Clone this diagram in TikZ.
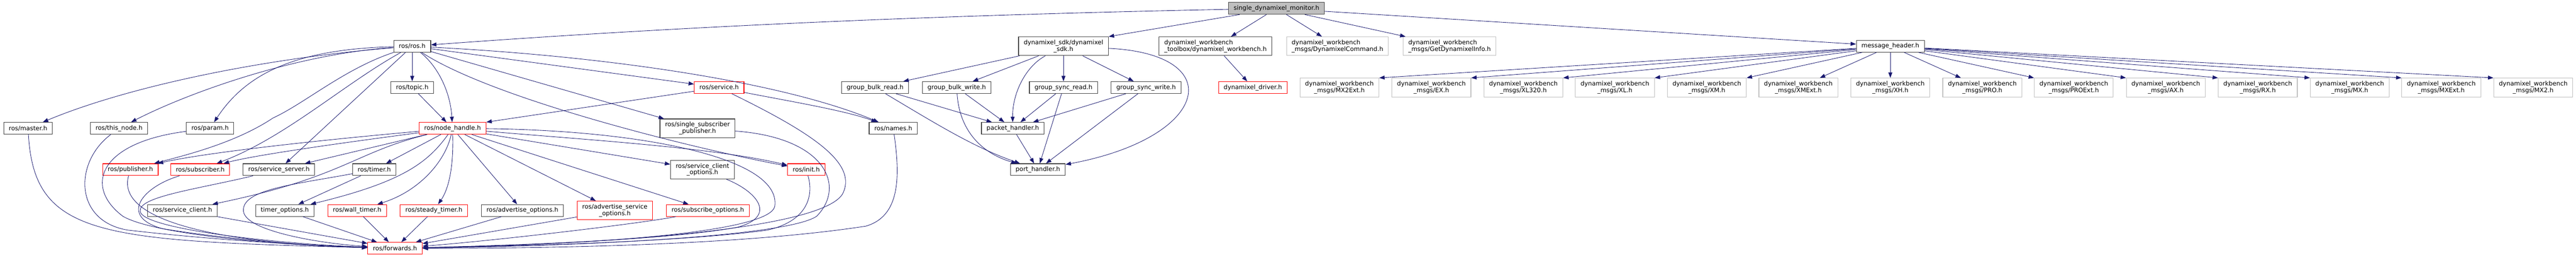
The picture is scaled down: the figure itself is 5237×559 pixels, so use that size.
\documentclass[tikz,border=0pt]{standalone}
\usepackage{fontspec}
\setmainfont{DejaVu Sans}
\usetikzlibrary{arrows.meta}
\definecolor{edgeblue}{HTML}{191970}
\definecolor{extgray}{HTML}{BFBFBF}

\begin{document}
\begin{tikzpicture}[x=1pt,y=-1pt,font=\fontsize{12.5}{13.3}\selectfont,
    file/.style={draw=black!75,line width=1.2pt,fill=white,inner xsep=10.5pt,inner ysep=2pt,minimum height=24pt},
    trunc/.style={file,draw=red},
    ext/.style={file,draw=extgray},
    root/.style={file,fill=extgray},
    tall/.style={minimum height=38pt,align=center},
    edge/.style={draw=edgeblue,line width=0.9pt,-{Triangle[length=11pt,width=8pt]}}]
    \useasboundingbox (0,0) rectangle (5237,559);

    \node[root] (monitor) at (2595,17) {single\_dynamixel\_monitor.h};

    \node[file] (ros) at (838,94) {ros/ros.h};
    \node[file,tall] (sdk) at (2162,94) {dynamixel\_sdk/dynamixel\\\_sdk.h};
    \node[file,tall,align=left] (toolbox) at (2471,94) {dynamixel\_workbench\\\_toolbox/dynamixel\_workbench.h};
    \node[ext,tall,align=left] (command) at (2719,94) {dynamixel\_workbench\\\_msgs/DynamixelCommand.h};
    \node[ext,tall,align=left] (info) at (2947,94) {dynamixel\_workbench\\\_msgs/GetDynamixelInfo.h};
    \node[file] (header) at (3843,94) {message\_header.h};

    \node[file] (topic) at (838,178) {ros/topic.h};
    \node[trunc] (service) at (1462,178) {ros/service.h};
    \node[file] (bulkread) at (1779,178) {group\_bulk\_read.h};
    \node[file] (bulkwrite) at (1945,178) {group\_bulk\_write.h};
    \node[file] (syncread) at (2162,178) {group\_sync\_read.h};
    \node[file] (syncwrite) at (2330,178) {group\_sync\_write.h};
    \node[trunc] (driver) at (2547,178) {dynamixel\_driver.h};
    \node[ext,tall] (msgMXtwoExt) at (2723,178) {dynamixel\_workbench\\\_msgs/MX2Ext.h};
    \node[ext,tall] (msgEX) at (2910,178) {dynamixel\_workbench\\\_msgs/EX.h};
    \node[ext,tall] (msgXLthree) at (3097,178) {dynamixel\_workbench\\\_msgs/XL320.h};
    \node[ext,tall] (msgXL) at (3283,178) {dynamixel\_workbench\\\_msgs/XL.h};
    \node[ext,tall] (msgXM) at (3470,178) {dynamixel\_workbench\\\_msgs/XM.h};
    \node[ext,tall] (msgXMExt) at (3656,178) {dynamixel\_workbench\\\_msgs/XMExt.h};
    \node[ext,tall] (msgXH) at (3843,178) {dynamixel\_workbench\\\_msgs/XH.h};
    \node[ext,tall] (msgPRO) at (4030,178) {dynamixel\_workbench\\\_msgs/PRO.h};
    \node[ext,tall] (msgPROExt) at (4216,178) {dynamixel\_workbench\\\_msgs/PROExt.h};
    \node[ext,tall] (msgAX) at (4403,178) {dynamixel\_workbench\\\_msgs/AX.h};
    \node[ext,tall] (msgRX) at (4590,178) {dynamixel\_workbench\\\_msgs/RX.h};
    \node[ext,tall] (msgMX) at (4777,178) {dynamixel\_workbench\\\_msgs/MX.h};
    \node[ext,tall] (msgMXExt) at (4963,178) {dynamixel\_workbench\\\_msgs/MXExt.h};
    \node[ext,tall] (msgMXtwo) at (5150,178) {dynamixel\_workbench\\\_msgs/MX2.h};

    \node[file] (master) at (57,261) {ros/master.h};
    \node[file] (thisnode) at (242,261) {ros/this\_node.h};
    \node[file] (param) at (427,261) {ros/param.h};
    \node[trunc] (nodehandle) at (920,261) {ros/node\_handle.h};
    \node[file,tall] (ssp) at (1418,261) {ros/single\_subscriber\\\_publisher.h};
    \node[file] (names) at (1816,261) {ros/names.h};
    \node[file] (packet) at (2059,261) {packet\_handler.h};

    \node[trunc] (publisher) at (265,345) {ros/publisher.h};
    \node[trunc] (subscriber) at (407,345) {ros/subscriber.h};
    \node[file] (svcserver) at (567,345) {ros/service\_server.h};
    \node[file] (timer) at (761,345) {ros/timer.h};
    \node[file,tall] (svcclientopts) at (1428,345) {ros/service\_client\\\_options.h};
    \node[trunc] (init) at (1639,345) {ros/init.h};
    \node[file] (port) at (2110,345) {port\_handler.h};

    \node[file] (svcclient) at (371,428) {ros/service\_client.h};
    \node[file] (timeropts) at (579,428) {timer\_options.h};
    \node[trunc] (walltimer) at (726,428) {ros/wall\_timer.h};
    \node[trunc] (steadytimer) at (882,428) {ros/steady\_timer.h};
    \node[file] (advopts) at (1062,428) {ros/advertise\_options.h};
    \node[trunc,tall] (advsvcopts) at (1250,428) {ros/advertise\_service\\\_options.h};
    \node[trunc] (subopts) at (1439,428) {ros/subscribe\_options.h};

    \node[trunc] (forwards) at (803,505) {ros/forwards.h};

    \draw[edge] (monitor) .. controls (1800,33) and (1300,60) .. (ros);
    \draw[edge] (monitor) -- (sdk.north east);
    \draw[edge] (monitor) -- (toolbox);
    \draw[edge] (monitor) -- (command);
    \draw[edge] (monitor) -- (info);
    \draw[edge] (monitor) -- (header);

    \draw[edge] (ros) .. controls (520,120) and (250,180) .. (master);
    \draw[edge] (ros) .. controls (600,110) and (380,190) .. (thisnode);
    \draw[edge] (ros) .. controls (600,100) and (500,150) .. (param);
    \draw[edge] (ros) .. controls (700,140) and (620,210) .. (555,240) .. controls (480,290) and (380,315) .. (publisher);
    \draw[edge] (ros) .. controls (700,170) and (580,280) .. (subscriber);
    \draw[edge] (ros) -- (svcserver);
    \draw[edge] (ros) -- (topic);
    \draw[edge] (ros) .. controls (885,130) and (915,180) .. (nodehandle);
    \draw[edge] (ros) -- (service);
    \draw[edge] (ros) .. controls (1250,115) and (1600,170) .. (names);
    \draw[edge] (ros) -- (ssp);
    \draw[edge] (ros) .. controls (1000,200) and (1400,300) .. (init);
    \draw[edge] (topic) -- (nodehandle);
    \draw[edge] (service) -- (nodehandle.north east);
    \draw[edge] (service) .. controls (1600,205) and (1720,225) .. (names);

    \draw[edge] (nodehandle) .. controls (650,285) and (420,310) .. (publisher);
    \draw[edge] (nodehandle) .. controls (700,290) and (520,315) .. (subscriber);
    \draw[edge] (nodehandle) -- (svcserver);
    \draw[edge] (nodehandle) .. controls (720,310) and (700,360) .. (svcclient);
    \draw[edge] (nodehandle) -- (timer);
    \draw[edge] (nodehandle) .. controls (870,330) and (820,370) .. (timeropts);
    \draw[edge] (nodehandle) .. controls (905,330) and (850,390) .. (walltimer);
    \draw[edge] (nodehandle) .. controls (922,330) and (915,380) .. (steadytimer);
    \draw[edge] (nodehandle) -- (advopts);
    \draw[edge] (nodehandle) -- (advsvcopts);
    \draw[edge] (nodehandle) -- (subopts);
    \draw[edge] (nodehandle) -- (svcclientopts);
    \draw[edge] (nodehandle) .. controls (1200,285) and (1450,300) .. (init);
    \draw[edge] (timer) -- (timeropts);

    \draw[edge] (master) .. controls (70,480) and (200,490) .. (forwards);
    \draw[edge] (thisnode) .. controls (150,330) and (150,450) .. (260,468) .. controls (450,490) and (650,500) .. (forwards);
    \draw[edge] (param) .. controls (200,290) and (170,380) .. (250,440) .. controls (320,480) and (600,500) .. (forwards);
    \draw[edge] (publisher) .. controls (235,450) and (450,495) .. (forwards);
    \draw[edge] (subscriber) .. controls (290,380) and (240,440) .. (330,465) .. controls (450,485) and (620,500) .. (forwards);
    \draw[edge] (svcserver) .. controls (400,385) and (280,400) .. (285,430) .. controls (290,465) and (550,495) .. (forwards);
    \draw[edge] (svcclient) -- (forwards);
    \draw[edge] (timer) .. controls (600,375) and (490,385) .. (495,430) .. controls (500,470) and (650,495) .. (forwards);
    \draw[edge] (timeropts) -- (forwards);
    \draw[edge] (walltimer) -- (forwards);
    \draw[edge] (steadytimer) -- (forwards);
    \draw[edge] (advopts) -- (forwards);
    \draw[edge] (advsvcopts) -- (forwards);
    \draw[edge] (subopts) .. controls (1300,455) and (1000,490) .. (forwards);
    \draw[edge] (svcclientopts) .. controls (1540,390) and (1580,440) .. (1500,462) .. controls (1350,490) and (1000,500) .. (forwards);
    \draw[edge] (nodehandle) .. controls (1300,265) and (1590,320) .. (1575,420) .. controls (1565,465) and (1300,495) .. (forwards);
    \draw[edge] (ssp) .. controls (1680,280) and (1720,380) .. (1660,440) .. controls (1600,480) and (1200,500) .. (forwards);
    \draw[edge] (init) .. controls (1655,400) and (1640,450) .. (1560,468) .. controls (1400,490) and (1100,500) .. (forwards);
    \draw[edge] (service) .. controls (1650,270) and (1740,330) .. (1715,390) .. controls (1690,460) and (1300,495) .. (forwards);
    \draw[edge] (names) .. controls (1830,360) and (1830,440) .. (1760,460) .. controls (1500,500) and (1100,505) .. (forwards);

    \draw[edge] (sdk) -- (bulkread);
    \draw[edge] (sdk) -- (bulkwrite);
    \draw[edge] (sdk) .. controls (2085,135) and (2058,190) .. (packet);
    \draw[edge] (sdk) -- (syncread);
    \draw[edge] (sdk) -- (syncwrite);
    \draw[edge] (sdk) .. controls (2500,110) and (2460,280) .. (port);
    \draw[edge] (bulkread) -- (packet);
    \draw[edge] (bulkread) .. controls (1900,250) and (1980,300) .. (port);
    \draw[edge] (bulkwrite) -- (packet);
    \draw[edge] (bulkwrite) .. controls (1950,260) and (1990,310) .. (port);
    \draw[edge] (syncread) -- (packet);
    \draw[edge] (syncread) -- (port);
    \draw[edge] (syncwrite) -- (packet);
    \draw[edge] (syncwrite) -- (port);
    \draw[edge] (packet) -- (port);
    \draw[edge] (toolbox) -- (driver);

    \draw[edge] (header) -- (msgMXtwoExt.north east);
    \draw[edge] (header) -- (msgEX.north east);
    \draw[edge] (header) -- (msgXLthree.north east);
    \draw[edge] (header) -- (msgXL.north east);
    \draw[edge] (header) -- (msgXM.north east);
    \draw[edge] (header) -- (msgXMExt);
    \draw[edge] (header) -- (msgXH);
    \draw[edge] (header) -- (msgPRO);
    \draw[edge] (header) -- (msgPROExt.north west);
    \draw[edge] (header) -- (msgAX.north west);
    \draw[edge] (header) -- (msgRX.north west);
    \draw[edge] (header) -- (msgMX.north west);
    \draw[edge] (header) -- (msgMXExt.north west);
    \draw[edge] (header) -- (msgMXtwo.north west);
\end{tikzpicture}
\end{document}
